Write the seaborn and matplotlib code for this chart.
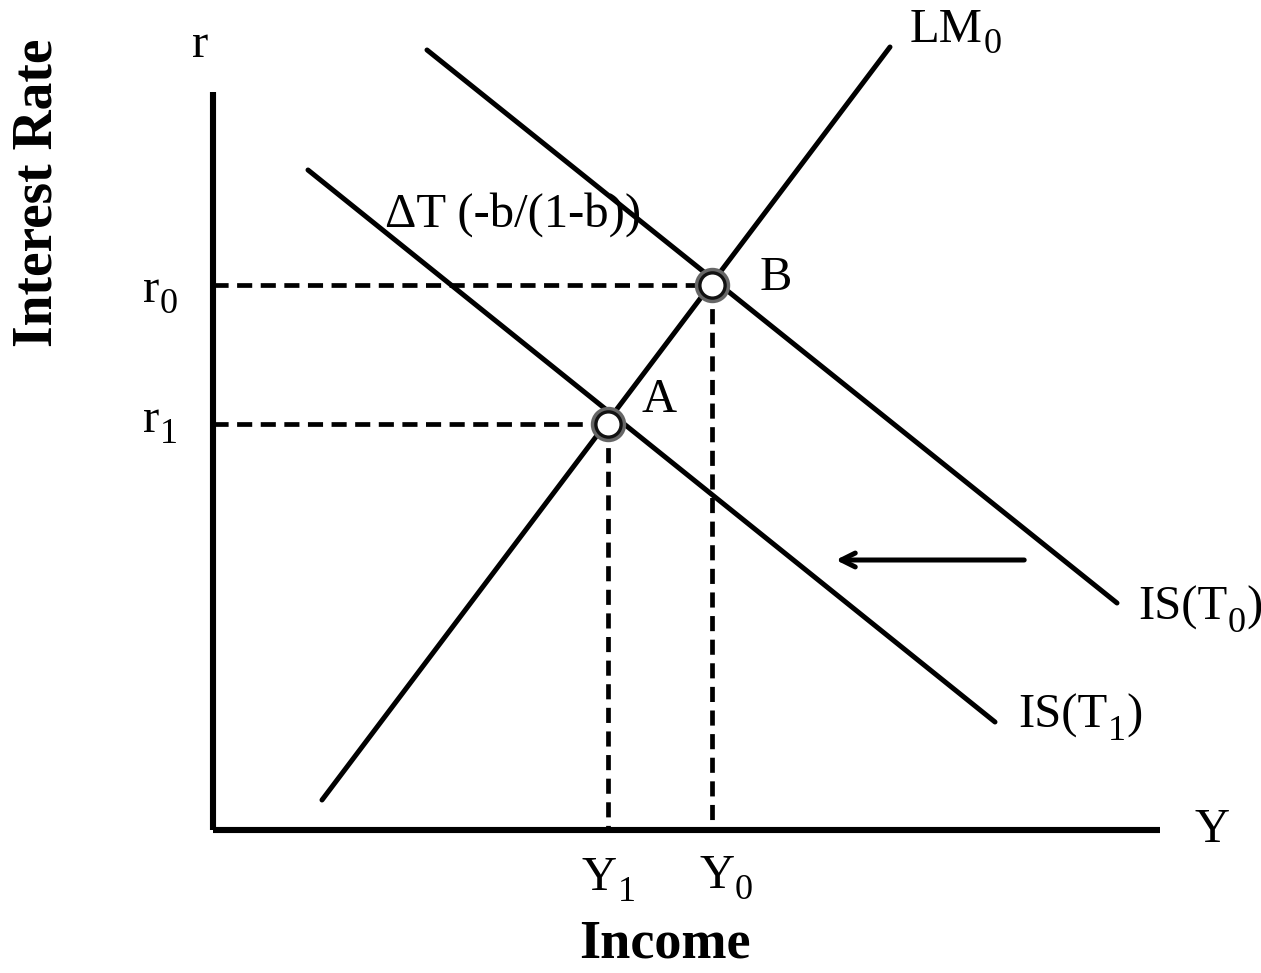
import numpy as np
import pandas as pd
import matplotlib
matplotlib.use("Agg")
import matplotlib.pyplot as plt
import seaborn as sns

sns.set_style("white")
plt.rcParams['font.family'] = ['Liberation Serif', 'DejaVu Serif']
plt.rcParams['text.color'] = 'black'

# curve end points (income, interest rate)
lm0_x = [109, 677]
lm0_y = [30, 783]
is_t0_x = [214, 904]
is_t0_y = [780, 227]
is_t1_x = [95, 782]
is_t1_y = [660, 108]

# equilibria
eq_names = ['A', 'B']
eq_income = [395, 499]   # Y1, Y0
eq_rate = [406, 545]     # r1, r0

# axis extent
x_max = 947
y_max = 738

# shift arrow
arrow_from = [814, 270]
arrow_to = [620, 270]

curves = pd.DataFrame({
    'x': lm0_x + is_t0_x + is_t1_x,
    'y': lm0_y + is_t0_y + is_t1_y,
    'curve': ['LM0'] * 2 + ['IS_T0'] * 2 + ['IS_T1'] * 2,
})

guides = []
for name, yy, rr in zip(eq_names, eq_income, eq_rate):
    guides.append({'x': 0, 'y': rr, 'g': name + 'h'})
    guides.append({'x': yy, 'y': rr, 'g': name + 'h'})
    guides.append({'x': yy, 'y': rr, 'g': name + 'v'})
    guides.append({'x': yy, 'y': 0, 'g': name + 'v'})
guides = pd.DataFrame(guides)

fig = plt.figure(figsize=(12.61, 9.73), dpi=100)
ax = fig.add_axes([0, 0, 1, 1])
ax.set_xlim(-213, 1048)
ax.set_ylim(-143, 830)
ax.axis('off')

# axes
ax.plot([0, 0], [0, y_max], color='black', lw=4.4, solid_capstyle='butt')
ax.plot([0, x_max], [0, 0], color='black', lw=4.4, solid_capstyle='butt')

sns.lineplot(data=guides, x='x', y='y', units='g', estimator=None, sort=False,
             color='black', lw=3.4, dashes=False, ax=ax,
             linestyle=(0, (3.2, 1.8)))

sns.lineplot(data=curves, x='x', y='y', units='curve', estimator=None,
             sort=False, color='black', lw=3.6, ax=ax)

sns.scatterplot(x=eq_income, y=eq_rate, s=420, color='white',
                edgecolor='#666666', linewidth=5, ax=ax, zorder=5)
sns.scatterplot(x=eq_income, y=eq_rate, s=330, color='white',
                edgecolor='#111111', linewidth=2.4, ax=ax, zorder=6)

ax.annotate('', xy=arrow_to, xytext=arrow_from,
            arrowprops=dict(arrowstyle='->,head_length=1.0,head_width=0.5',
                            color='black', lw=3.6))

fs = 35
sub_fs = 26


def label(x, y, main, sub=None, tail=None, ha='left'):
    t = ax.text(x, y, main, fontsize=fs, ha=ha, va='center')
    if sub is None:
        return t
    s = ax.annotate(sub, xy=(1, 0), xycoords=t, xytext=(0.5, -1),
                    textcoords='offset points', fontsize=sub_fs,
                    ha='left', va='baseline')
    if tail is not None:
        ax.annotate(tail, xy=(1, 0), xycoords=(s, t), xytext=(0.5, 0),
                    textcoords='offset points', fontsize=fs,
                    ha='left', va='bottom')
    return t


ax.text(-13, 785, 'r', fontsize=fs, ha='center', va='center')
label(-70, 540, 'r', '0')
label(-70, 410, 'r', '1')
ax.text(999, 0, 'Y', fontsize=fs, ha='center', va='center')
label(eq_income[0] - 26, -48, 'Y', '1')
label(eq_income[1] - 13, -46, 'Y', '0')
ax.text(452, -115, 'Income', fontsize=39, fontweight='bold',
        ha='center', va='center')
ax.text(-175, 637, 'Interest Rate', fontsize=40, fontweight='bold',
        ha='center', va='center', rotation=90)
label(697, 800, 'LM', '0')
ax.text(563, 552, 'B', fontsize=fs, ha='center', va='center')
ax.text(446, 430, 'A', fontsize=fs, ha='center', va='center')
ax.text(172, 615, 'ΔT (-b/(1-b))', fontsize=fs, ha='left', va='center')
label(925, 222, 'IS(T', '0', ')')
label(805, 114, 'IS(T', '1', ')')

fig.savefig('out.png', dpi=100)
